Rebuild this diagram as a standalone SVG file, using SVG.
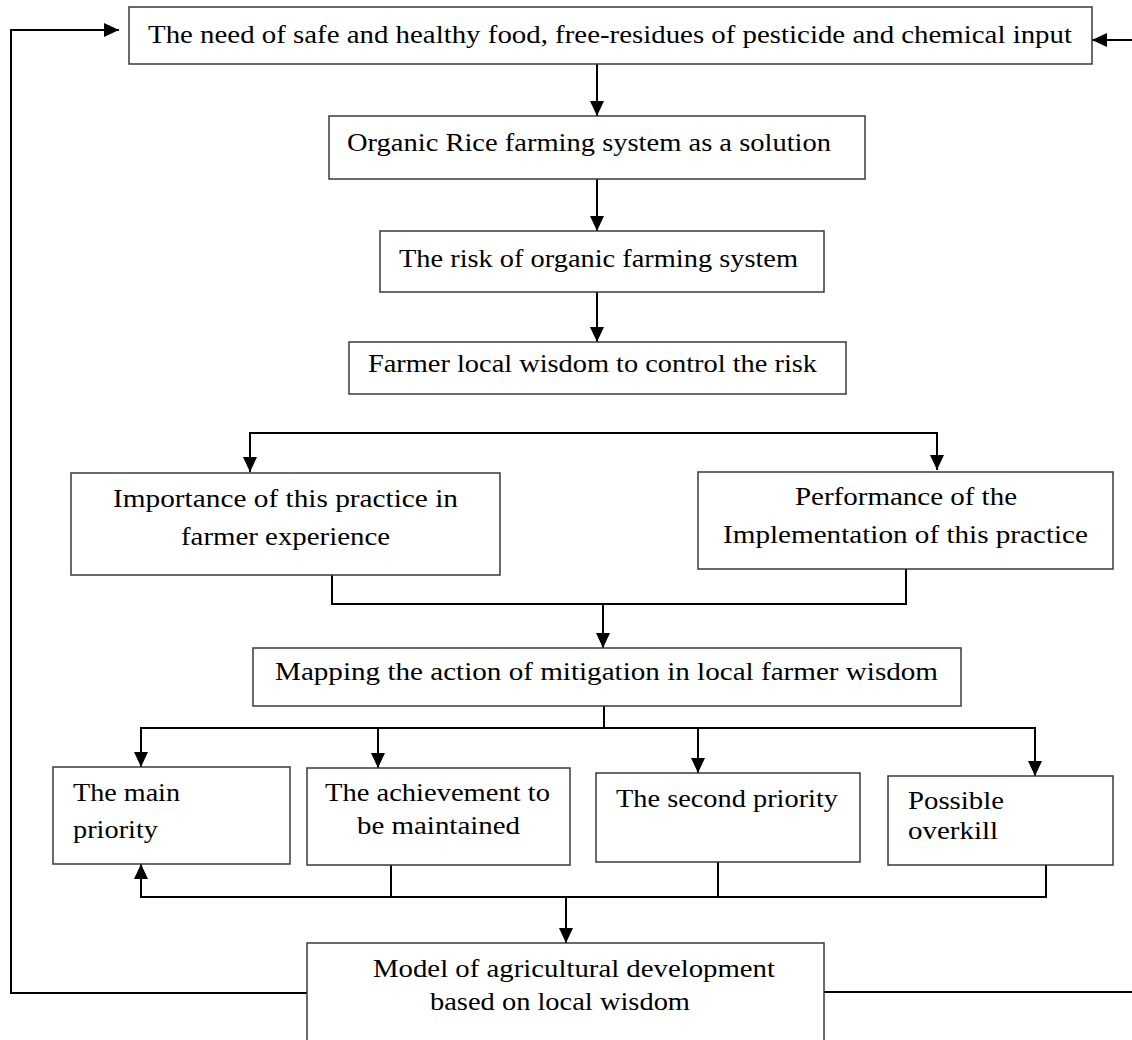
<svg xmlns="http://www.w3.org/2000/svg" width="1132" height="1040" viewBox="0 0 1132 1040" font-family="Liberation Serif, Tinos, Times New Roman, serif">
<style>
.box{fill:#fff;stroke:#3a3a3a;stroke-width:1.5}
text{font-family:'Liberation Serif',Tinos,'Times New Roman',serif;font-size:25px;fill:#000}
.ln{fill:none;stroke:#000;stroke-width:2}
</style>
<defs>
<marker id="ah" markerUnits="userSpaceOnUse" markerWidth="16" markerHeight="16" viewBox="0 0 16 16" refX="15" refY="8" orient="auto">
<path d="M0,1 L15,8 L0,15 Z" fill="#000"/>
</marker>
</defs>
<g id="connectors">
<line class="ln" x1="597" y1="64" x2="597" y2="116" marker-end="url(#ah)"/>
<line class="ln" x1="597" y1="179" x2="597" y2="231" marker-end="url(#ah)"/>
<line class="ln" x1="597" y1="292" x2="597" y2="342" marker-end="url(#ah)"/>
<polyline class="ln" points="250,470 250,433 937,433 937,470" marker-end="url(#ah)"/>
<line class="ln" x1="250" y1="433" x2="250" y2="472" marker-end="url(#ah)"/>
<polyline class="ln" points="332,575 332,604 906,604 906,569"/>
<line class="ln" x1="603" y1="604" x2="603" y2="648" marker-end="url(#ah)"/>
<line class="ln" x1="604" y1="706" x2="604" y2="728"/>
<polyline class="ln" points="141,766 141,728 1035,728 1035,776" marker-end="url(#ah)"/>
<line class="ln" x1="141" y1="728" x2="141" y2="767" marker-end="url(#ah)"/>
<line class="ln" x1="378" y1="728" x2="378" y2="768" marker-end="url(#ah)"/>
<line class="ln" x1="698" y1="728" x2="698" y2="773" marker-end="url(#ah)"/>
<polyline class="ln" points="1046,865 1046,897 141,897 141,864" marker-end="url(#ah)"/>
<line class="ln" x1="391" y1="865" x2="391" y2="897"/>
<line class="ln" x1="718" y1="862" x2="718" y2="897"/>
<line class="ln" x1="566" y1="897" x2="566" y2="943" marker-end="url(#ah)"/>
<polyline class="ln" points="307,993 11,993 11,30 119,30" marker-end="url(#ah)"/>
<line class="ln" x1="824" y1="992" x2="1132" y2="992"/>
<line class="ln" x1="1132" y1="40" x2="1092" y2="40" marker-end="url(#ah)"/>
</g>
<g id="n1"><rect class="box" x="129" y="7" width="963" height="57"/>
<text x="148" y="43" textLength="924" lengthAdjust="spacingAndGlyphs">The need of safe and healthy food, free-residues of pesticide and chemical input</text></g>
<g id="n2"><rect class="box" x="329" y="116" width="536" height="63"/>
<text x="347" y="151" textLength="484" lengthAdjust="spacingAndGlyphs">Organic Rice farming system as a solution</text></g>
<g id="n3"><rect class="box" x="380" y="231" width="444" height="61"/>
<text x="399" y="267" textLength="399" lengthAdjust="spacingAndGlyphs">The risk of organic farming system</text></g>
<g id="n4"><rect class="box" x="349" y="342" width="497" height="52"/>
<text x="368" y="372" textLength="449" lengthAdjust="spacingAndGlyphs">Farmer local wisdom to control the risk</text></g>
<g id="n5"><rect class="box" x="71" y="473" width="429" height="102"/>
<text x="113" y="507" textLength="345" lengthAdjust="spacingAndGlyphs">Importance of this practice in</text>
<text x="181" y="545" textLength="209" lengthAdjust="spacingAndGlyphs">farmer experience</text></g>
<g id="n6"><rect class="box" x="698" y="472" width="415" height="97"/>
<text x="795" y="505" textLength="222" lengthAdjust="spacingAndGlyphs">Performance of the</text>
<text x="723" y="543" textLength="365" lengthAdjust="spacingAndGlyphs">Implementation of this practice</text></g>
<g id="n7"><rect class="box" x="253" y="648" width="708" height="58"/>
<text x="275" y="680" textLength="663" lengthAdjust="spacingAndGlyphs">Mapping the action of mitigation in local farmer wisdom</text></g>
<g id="n8"><rect class="box" x="53" y="767" width="237" height="97"/>
<text x="73" y="801" textLength="107" lengthAdjust="spacingAndGlyphs">The main</text>
<text x="73" y="838" textLength="85" lengthAdjust="spacingAndGlyphs">priority</text></g>
<g id="n9"><rect class="box" x="307" y="768" width="263" height="97"/>
<text x="325" y="801" textLength="225" lengthAdjust="spacingAndGlyphs">The achievement to</text>
<text x="357" y="834" textLength="163" lengthAdjust="spacingAndGlyphs">be maintained</text></g>
<g id="n10"><rect class="box" x="596" y="773" width="264" height="89"/>
<text x="616" y="807" textLength="222" lengthAdjust="spacingAndGlyphs">The second priority</text></g>
<g id="n11"><rect class="box" x="888" y="776" width="225" height="89"/>
<text x="908" y="809" textLength="96" lengthAdjust="spacingAndGlyphs">Possible</text>
<text x="908" y="839" textLength="90" lengthAdjust="spacingAndGlyphs">overkill</text></g>
<g id="n12"><rect class="box" x="307" y="943" width="517" height="110"/>
<text x="373" y="977" textLength="402" lengthAdjust="spacingAndGlyphs">Model of agricultural development</text>
<text x="430" y="1010" textLength="260" lengthAdjust="spacingAndGlyphs">based on local wisdom</text></g>
</svg>
